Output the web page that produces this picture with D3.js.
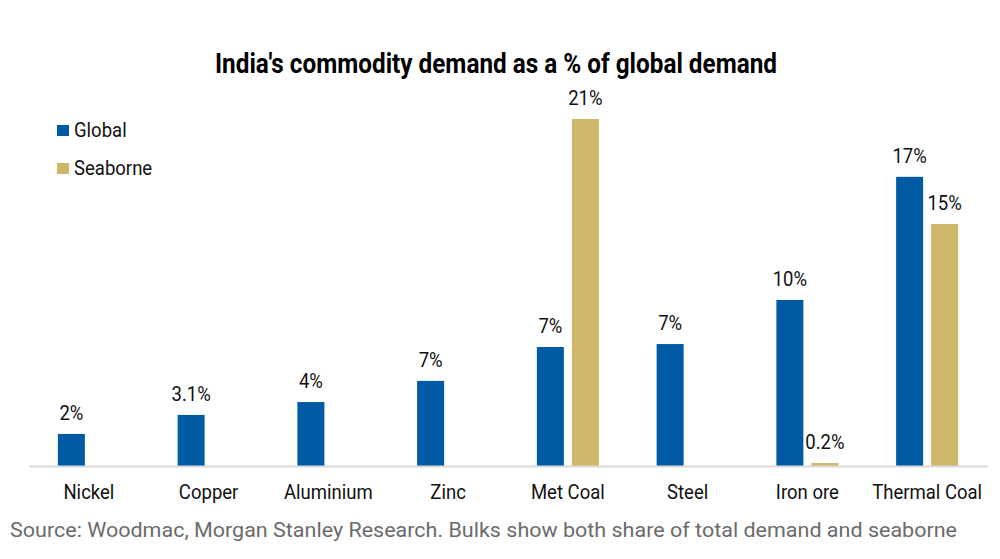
<!DOCTYPE html>
<html>
<head>
<meta charset="utf-8">
<script src="https://cdn.jsdelivr.net/npm/d3@7"></script>
<style>
  body { margin: 0; background: #fff; }
  text { font-family: Roboto, "Noto Sans", sans-serif; }
</style>
</head>
<body>
<div class="barchart"></div>
<script>
// data
var categories = ["Nickel", "Copper", "Aluminium", "Zinc", "Met Coal", "Steel", "Iron ore", "Thermal Coal"];
var series = ["Global", "Seaborne"];
var globalValues = [1.94, 3.09, 3.87, 5.15, 7.2, 7.38, 10.05, 17.5];
var seaborneValues = [null, null, null, null, 21.0, null, 0.18, 14.65];
var globalLabels = ["2%", "3.1%", "4%", "7%", "7%", "7%", "10%", "17%"];
var seaborneLabels = [null, null, null, null, "21%", null, "0.2%", "15%"];
var colors = ["#005aa4", "#cfb76a"];

var w = 1000;
var h = 559;
var baseline = 466;
var fs = 21;

var svg = d3.select(".barchart")
            .append("svg")
            .attr("width", w)
            .attr("height", h);

// the original uses a condensed face, squeeze Roboto to match
var probe = svg.append("text").attr("font-size", fs).text("Thermal Coal");
var squeeze = 110 / probe.node().getComputedTextLength();
probe.remove();

// title
svg.append("text")
    .attr("x", 496)
    .attr("y", 73)
    .attr("text-anchor", "middle")
    .attr("font-size", 27)
    .attr("font-weight", 700)
    .attr("textLength", 562)
    .attr("lengthAdjust", "spacingAndGlyphs")
    .text("India's commodity demand as a % of global demand");

// scales
var x0 = d3.scaleBand()
    .domain(categories)
    .range([29, 987]);

var x1 = d3.scaleBand()
    .domain(series)
    .range([0, x0.bandwidth()])
    .paddingInner(0.229)
    .paddingOuter(0.825);

var y = d3.scaleLinear()
    .domain([0, 21])
    .range([baseline, 119]);

// rows of data for each series
var rows = [];
categories.forEach(function (c, i) {
    rows.push({ cat: c, s: 0, v: globalValues[i], label: globalLabels[i] });
    if (seaborneValues[i] != null) {
        rows.push({ cat: c, s: 1, v: seaborneValues[i], label: seaborneLabels[i] });
    }
});

// bars
svg.selectAll("rect.bar")
    .data(rows)
    .enter()
    .append("rect")
    .attr("class", "bar")
    .attr("x", function (d) { return x0(d.cat) + x1(series[d.s]); })
    .attr("y", function (d) { return y(d.v); })
    .attr("width", x1.bandwidth())
    .attr("height", function (d) { return baseline - y(d.v); })
    .attr("fill", function (d) { return colors[d.s]; });

// value labels
svg.selectAll("text.val")
    .data(rows)
    .enter()
    .append("text")
    .attr("class", "val")
    .attr("transform", function (d) {
        var cx = x0(d.cat) + x1(series[d.s]) + x1.bandwidth() / 2;
        return "translate(" + cx + "," + (y(d.v) - 14) + ") scale(" + squeeze + ",1)";
    })
    .attr("text-anchor", "middle")
    .attr("font-size", fs)
    .attr("fill", "#111")
    .text(function (d) { return d.label; });

// x axis
var xAxis = svg.append("g")
    .attr("transform", "translate(0," + baseline + ")")
    .call(d3.axisBottom(x0).tickSize(0).tickPadding(18));

xAxis.select(".domain")
    .attr("stroke", "#d9d9d9")
    .attr("stroke-width", 2);

xAxis.selectAll(".tick text")
    .attr("font-family", "Roboto, sans-serif")
    .attr("font-size", fs)
    .attr("fill", "#111")
    .attr("transform", "scale(" + squeeze + ",1)");

// legend
var legend = svg.selectAll("g.legend")
    .data(series)
    .enter()
    .append("g")
    .attr("class", "legend")
    .attr("transform", function (d, i) { return "translate(57," + (125 + i * 38) + ")"; });

legend.append("rect")
    .attr("width", 12)
    .attr("height", 11)
    .attr("fill", function (d, i) { return colors[i]; });

legend.append("text")
    .attr("transform", "translate(17,12) scale(" + squeeze + ",1)")
    .attr("font-size", fs)
    .attr("fill", "#111")
    .text(function (d) { return d; });

// source note
svg.append("text")
    .attr("x", 10)
    .attr("y", 537)
    .attr("font-size", 20)
    .attr("fill", "#6b6b6b")
    .attr("textLength", 947)
    .attr("lengthAdjust", "spacingAndGlyphs")
    .text("Source: Woodmac, Morgan Stanley Research. Bulks show both share of total demand and seaborne");
</script>
</body>
</html>
